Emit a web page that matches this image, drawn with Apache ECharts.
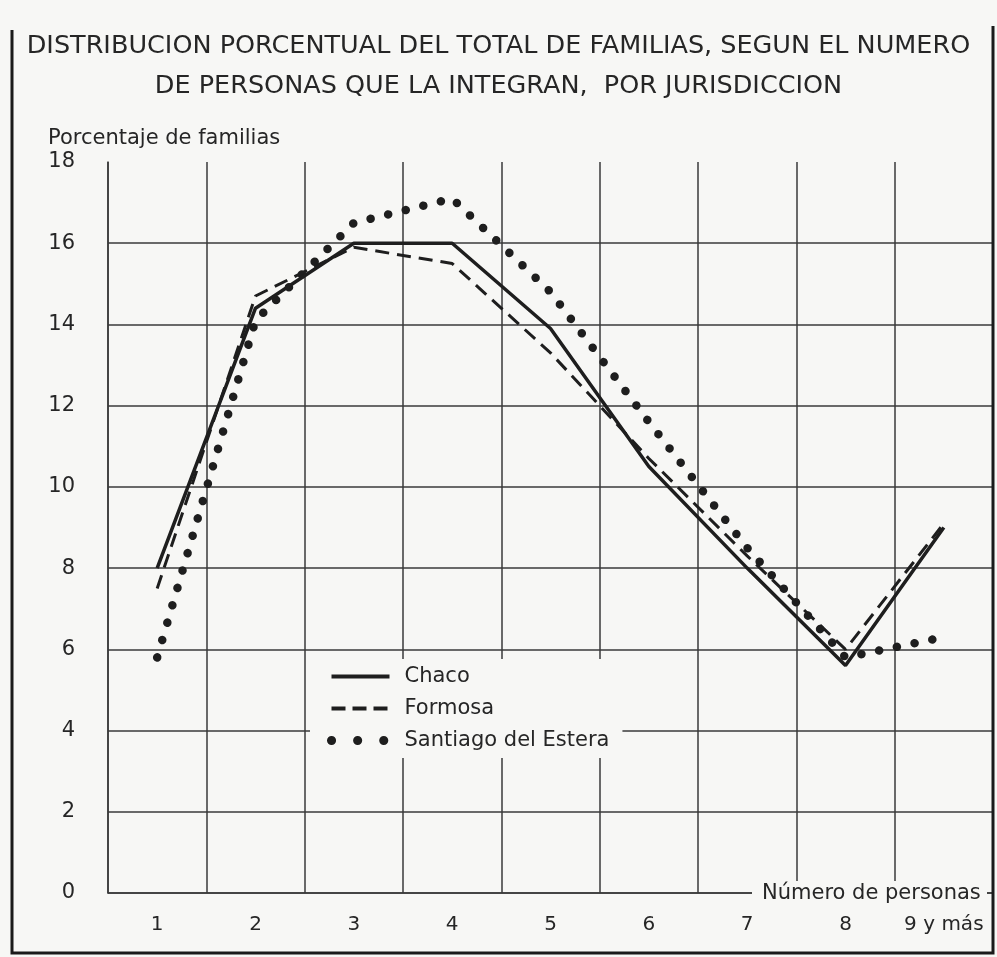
<!DOCTYPE html>
<html>
<head>
<meta charset="utf-8">
<script src="https://cdn.jsdelivr.net/npm/echarts@6/dist/echarts.min.js"></script>
<style>
  html, body { margin: 0; padding: 0; background: #f7f7f5; }
  #chart { width: 997px; height: 957px; }
</style>
</head>
<body>
<div id="chart"></div>
<script>
// categorias: numero de personas por familia
var personas = ['1', '2', '3', '4', '5', '6', '7', '8', '9 y más'];
// porcentaje de familias por jurisdiccion
var chaco = [8.0, 14.4, 16.0, 16.0, 13.9, 10.5, 8.0, 5.6, 9.0];
var formosa = [7.5, 14.7, 15.9, 15.5, 13.3, 10.7, 8.3, 6.0, 9.1];
var santiago = [5.8, 14.1, 16.5, 17.1, 14.8, 11.6, 8.5, 5.8, 6.3];
var yTicks = [0, 2, 4, 6, 8, 10, 12, 14, 16, 18];

var ink = '#262626';
var bg = '#f7f7f5';
var font = 'DejaVu Sans';

var chart = echarts.init(document.getElementById('chart'));

// la linea superior (18) no se dibuja en el original
var splitColors = yTicks.map(function (v, i) {
    return i === yTicks.length - 1 ? 'rgba(0,0,0,0)' : '#3a3a3a';
});

var titleStyle = {
    fontFamily: font,
    fontWeight: 'normal',
    fontSize: 25.5,
    color: ink
};

var option = {
    backgroundColor: bg,
    animation: false,
    textStyle: { fontFamily: font, color: ink },
    title: [
        {
            text: 'DISTRIBUCION PORCENTUAL DEL TOTAL DE FAMILIAS, SEGUN EL NUMERO',
            left: 'center',
            top: 33,
            padding: 0,
            textStyle: titleStyle
        },
        {
            text: 'DE PERSONAS QUE LA INTEGRAN,  POR JURISDICCION',
            left: 'center',
            top: 73,
            padding: 0,
            textStyle: titleStyle
        }
    ],
    legend: {
        orient: 'vertical',
        left: 310,
        top: 659,
        padding: [7, 13, 7, 17],
        backgroundColor: bg,
        itemWidth: 58,
        itemHeight: 14,
        itemGap: 11,
        itemStyle: { opacity: 0 },
        textStyle: { fontFamily: font, fontSize: 21, color: ink, padding: [0, 0, 0, 10] },
        data: [
            { name: 'Chaco', lineStyle: { width: 4 } },
            { name: 'Formosa', lineStyle: { width: 4, type: [14, 7] } },
            { name: 'Santiago del Estera', lineStyle: { width: 9, type: [0.1, 26], cap: 'round' } }
        ]
    },
    grid: {
        left: 108,
        right: 4,
        top: 162,
        bottom: 64
    },
    xAxis: {
        type: 'category',
        data: personas,
        boundaryGap: true,
        axisLine: { lineStyle: { color: '#3a3a3a', width: 1.5 } },
        axisTick: { show: false },
        axisLabel: { interval: 0, color: ink, fontSize: 20, margin: 22, fontFamily: font },
        splitLine: { show: true, interval: 0, lineStyle: { color: '#3a3a3a', width: 1.5 } }
    },
    yAxis: {
        type: 'value',
        min: 0,
        max: 18,
        interval: 2,
        axisLine: { show: true, lineStyle: { color: '#3a3a3a', width: 1.5 } },
        axisTick: { show: false },
        axisLabel: { color: ink, fontSize: 21, margin: 33, fontFamily: font },
        splitLine: { show: true, lineStyle: { color: splitColors, width: 1.5 } }
    },
    graphic: [
        {
            type: 'text',
            left: 48,
            top: 128,
            style: { text: 'Porcentaje de familias', fontSize: 21, fill: ink, fontFamily: font }
        },
        {
            type: 'rect',
            shape: { x: 752, y: 881, width: 235, height: 28 },
            style: { fill: bg },
            z: 50
        },
        {
            type: 'text',
            left: 762,
            top: 883,
            z: 51,
            style: { text: 'Número de personas', fontSize: 21, fill: ink, fontFamily: font }
        },
        // marco
        {
            type: 'polyline',
            z: 60,
            shape: { points: [[12, 30], [12, 953], [993, 953], [993, 26]] },
            style: { stroke: '#1a1a1a', lineWidth: 3, fill: null }
        }
    ],
    series: [
        {
            name: 'Chaco',
            type: 'line',
            data: chaco,
            symbol: 'none',
            z: 4,
            lineStyle: { color: '#1e1e1e', width: 3.5, type: 'solid' },
            itemStyle: { color: '#1e1e1e' }
        },
        {
            name: 'Formosa',
            type: 'line',
            data: formosa,
            symbol: 'none',
            z: 3,
            lineStyle: { color: '#1e1e1e', width: 3, type: [14, 8] },
            itemStyle: { color: '#1e1e1e' }
        },
        {
            name: 'Santiago del Estera',
            type: 'line',
            data: santiago,
            symbol: 'none',
            z: 2,
            lineStyle: { color: '#1e1e1e', width: 8.5, type: [0.1, 18], cap: 'round' },
            itemStyle: { color: '#1e1e1e' }
        }
    ]
};

chart.setOption(option);
window.onresize = chart.resize;
</script>
</body>
</html>
